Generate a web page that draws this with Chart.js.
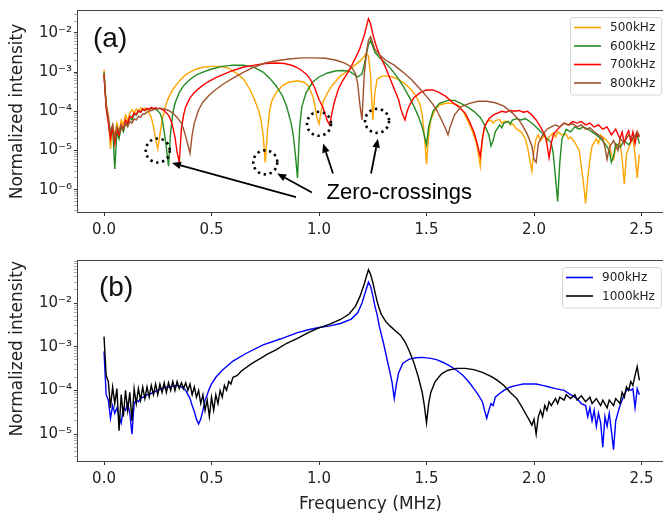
<!DOCTYPE html>
<html>
<head>
<meta charset="utf-8">
<script src="https://cdn.jsdelivr.net/npm/chart.js@4.4.1/dist/chart.umd.min.js"></script>
<style>
  html, body { margin:0; padding:0; background:#fff; overflow:hidden; }
  #wrap { position:relative; width:663px; height:519px; }
  #wrap canvas { position:absolute; left:0; }
  #chartA { top:0; width:663px; height:250px; }
  #chartB { top:250px; width:663px; height:269px; }
</style>
</head>
<body>
<div id="wrap">
  <canvas id="chartA" width="663" height="250"></canvas>
  <canvas id="chartB" width="663" height="269"></canvas>
</div>
<script>
// x tick labels (MHz)
const freqTicks = [0, 0.5, 1.0, 1.5, 2.0, 2.5];

// panel (a) spectra, [frequency MHz, normalized intensity]
const s500 = [[0,1.15e-3],[0.01,1.6e-4],[0.02,8e-5],[0.03,1.1e-5],[0.04,4e-5],[0.05,2.5e-5],[0.06,5e-5],[0.07,3e-5],[0.08,6e-5],[0.09,4.5e-5],[0.10,8e-5],[0.11,6e-5],[0.12,9e-5],[0.13,1.1e-4],[0.14,9e-5],[0.15,1.15e-4],[0.16,1.0e-4],[0.17,1.2e-4],[0.18,1.15e-4],[0.19,1.2e-4],[0.20,1.1e-4],[0.21,9e-5],[0.22,7e-5],[0.23,4e-5],[0.24,2e-5],[0.25,1.1e-5],[0.26,2.5e-5],[0.27,6e-5],[0.28,1e-4],[0.29,1.6e-4],[0.30,2.2e-4],[0.32,3.6e-4],[0.34,5e-4],[0.36,6.8e-4],[0.38,8.5e-4],[0.40,1e-3],[0.43,1.2e-3],[0.46,1.33e-3],[0.50,1.4e-3],[0.54,1.4e-3],[0.58,1.25e-3],[0.62,9e-4],[0.65,6.5e-4],[0.68,3.5e-4],[0.70,2e-4],[0.72,1e-4],[0.73,6e-5],[0.74,2.5e-5],[0.75,5e-6],[0.76,3e-5],[0.77,1e-4],[0.78,1.8e-4],[0.80,3e-4],[0.83,4.5e-4],[0.86,5.5e-4],[0.90,6e-4],[0.93,5.5e-4],[0.95,4.5e-4],[0.97,2.5e-4],[0.98,1.5e-4],[0.99,7e-5],[1.00,4.8e-5],[1.01,1e-4],[1.02,1.8e-4],[1.04,3e-4],[1.06,4.5e-4],[1.08,6e-4],[1.10,8e-4],[1.13,1.05e-3],[1.16,1.4e-3],[1.19,1.9e-3],[1.21,2.5e-3],[1.22,3e-3],[1.23,2.6e-3],[1.24,8e-4],[1.25,6e-5],[1.26,3e-4],[1.27,6.5e-4],[1.29,7.8e-4],[1.31,8e-4],[1.34,7.5e-4],[1.37,6.5e-4],[1.40,5e-4],[1.43,3.5e-4],[1.45,2.5e-4],[1.47,1.5e-4],[1.48,8e-5],[1.49,2.5e-5],[1.50,4.5e-6],[1.51,2.5e-5],[1.52,6e-5],[1.54,1.1e-4],[1.56,1.45e-4],[1.59,1.6e-4],[1.62,1.6e-4],[1.65,1.4e-4],[1.67,1e-4],[1.69,6e-5],[1.71,3.5e-5],[1.73,1.7e-5],[1.74,9e-6],[1.75,4e-6],[1.76,2e-5],[1.77,4e-5],[1.78,5.5e-5],[1.80,6e-5],[1.81,5e-5],[1.82,5.8e-5],[1.84,6.2e-5],[1.85,5e-5],[1.86,5.5e-5],[1.88,5.5e-5],[1.89,4.5e-5],[1.90,4.8e-5],[1.92,3.5e-5],[1.94,3e-5],[1.96,2e-5],[1.97,1.2e-5],[1.98,6e-6],[1.99,3e-6],[2.00,1e-5],[2.01,2e-5],[2.02,2.5e-5],[2.03,1.8e-5],[2.05,2.5e-5],[2.06,1.7e-5],[2.07,2.2e-5],[2.09,2.8e-5],[2.10,2.2e-5],[2.11,3e-5],[2.13,2.5e-5],[2.15,2.6e-5],[2.16,2e-5],[2.17,2.2e-5],[2.19,1.6e-5],[2.21,1e-5],[2.22,4e-6],[2.23,1.5e-6],[2.24,4.5e-7],[2.25,2e-6],[2.26,6e-6],[2.27,1.3e-5],[2.29,2e-5],[2.30,1.5e-5],[2.31,2.5e-5],[2.33,2e-5],[2.35,1.5e-5],[2.36,8e-6],[2.37,6e-6],[2.38,1.2e-5],[2.40,1.6e-5],[2.41,6e-6],[2.42,1.4e-6],[2.43,8e-6],[2.45,1.6e-5],[2.46,2e-5],[2.47,8e-6],[2.48,2e-6],[2.49,8e-6]];

const s600 = [[0,1e-3],[0.01,1.3e-4],[0.02,6e-5],[0.03,2.5e-5],[0.04,4e-5],[0.05,3.4e-6],[0.06,3e-5],[0.07,2e-5],[0.08,4e-5],[0.09,3e-5],[0.10,5e-5],[0.11,4.5e-5],[0.12,7e-5],[0.13,6e-5],[0.14,8.5e-5],[0.15,8e-5],[0.16,1e-4],[0.17,9.5e-5],[0.18,1.1e-4],[0.19,1.05e-4],[0.20,1.15e-4],[0.22,1.2e-4],[0.24,1.15e-4],[0.26,9e-5],[0.27,6.5e-5],[0.28,3e-5],[0.29,1.2e-5],[0.30,4e-6],[0.31,3e-5],[0.32,9e-5],[0.33,1.6e-4],[0.35,3e-4],[0.37,4.5e-4],[0.40,6.5e-4],[0.43,8.5e-4],[0.46,1e-3],[0.50,1.2e-3],[0.55,1.4e-3],[0.60,1.5e-3],[0.65,1.5e-3],[0.70,1.3e-3],[0.74,1e-3],[0.77,7e-4],[0.80,4.5e-4],[0.83,2.5e-4],[0.85,1.3e-4],[0.87,5e-5],[0.88,2.5e-5],[0.89,8e-6],[0.90,2e-6],[0.91,4e-5],[0.92,1.3e-4],[0.94,3e-4],[0.97,5.5e-4],[1.00,7.5e-4],[1.04,9.5e-4],[1.08,1.08e-3],[1.11,1.1e-3],[1.14,1.05e-3],[1.16,9e-4],[1.18,7.5e-4],[1.20,9e-4],[1.21,1.5e-3],[1.22,2.8e-3],[1.23,5e-3],[1.24,6.4e-3],[1.25,4.5e-3],[1.26,3.2e-3],[1.28,2.4e-3],[1.30,1.9e-3],[1.33,1.3e-3],[1.36,8e-4],[1.39,4.5e-4],[1.42,2.3e-4],[1.44,1.4e-4],[1.46,8e-5],[1.48,4e-5],[1.50,1.4e-5],[1.51,4e-5],[1.53,1e-4],[1.56,1.6e-4],[1.60,1.9e-4],[1.63,1.9e-4],[1.66,1.6e-4],[1.69,1.3e-4],[1.72,1e-4],[1.75,7e-5],[1.77,4.5e-5],[1.79,2.5e-5],[1.80,1.3e-5],[1.81,1.8e-5],[1.82,3e-5],[1.84,4.5e-5],[1.85,3.8e-5],[1.86,5e-5],[1.88,5.5e-5],[1.89,4.8e-5],[1.90,6e-5],[1.92,6.5e-5],[1.94,6e-5],[1.96,6.5e-5],[1.98,5.5e-5],[2.00,4.5e-5],[2.02,3.5e-5],[2.04,2.7e-5],[2.06,2e-5],[2.08,1.6e-5],[2.09,8e-6],[2.10,2e-6],[2.11,5e-7],[2.12,5e-6],[2.13,2e-5],[2.15,3.5e-5],[2.17,3e-5],[2.19,4e-5],[2.21,3.5e-5],[2.23,4e-5],[2.25,3.5e-5],[2.27,3e-5],[2.29,2.5e-5],[2.31,2e-5],[2.33,1.5e-5],[2.35,1e-5],[2.36,5e-6],[2.37,7e-6],[2.38,1.5e-5],[2.40,1.2e-5],[2.42,1.8e-5],[2.44,1.4e-5],[2.46,2e-5],[2.48,2.5e-5],[2.49,1.5e-5]];

const s700 = [[0,9e-4],[0.01,1.2e-4],[0.02,5e-5],[0.03,2e-5],[0.04,4e-5],[0.05,1.5e-5],[0.06,3.5e-5],[0.07,2.5e-5],[0.08,4.5e-5],[0.09,3.5e-5],[0.10,6e-5],[0.11,5e-5],[0.12,7.5e-5],[0.13,7e-5],[0.14,9e-5],[0.15,8.5e-5],[0.16,1.05e-4],[0.17,9.5e-5],[0.18,1.15e-4],[0.19,1.05e-4],[0.20,1.2e-4],[0.21,1.1e-4],[0.22,1.25e-4],[0.23,1.15e-4],[0.24,1.25e-4],[0.25,1.15e-4],[0.26,1.2e-4],[0.27,1.1e-4],[0.28,1.05e-4],[0.29,9e-5],[0.30,8e-5],[0.31,6e-5],[0.32,4e-5],[0.33,2.2e-5],[0.34,9e-6],[0.35,5e-6],[0.36,3.5e-5],[0.37,8e-5],[0.38,1.3e-4],[0.40,2.2e-4],[0.42,3e-4],[0.45,4.2e-4],[0.48,5.5e-4],[0.52,7.2e-4],[0.56,9e-4],[0.60,1.1e-3],[0.65,1.35e-3],[0.70,1.5e-3],[0.75,1.65e-3],[0.80,1.7e-3],[0.84,1.65e-3],[0.88,1.45e-3],[0.91,1.2e-3],[0.94,9e-4],[0.96,6.5e-4],[0.98,4e-4],[1.00,2e-4],[1.02,1.2e-4],[1.03,8e-5],[1.04,5.5e-5],[1.05,4.5e-5],[1.06,9e-5],[1.07,1.6e-4],[1.09,3.7e-4],[1.11,6e-4],[1.13,9e-4],[1.15,1.4e-3],[1.17,2.3e-3],[1.19,4e-3],[1.21,8.5e-3],[1.22,1.4e-2],[1.23,2.3e-2],[1.24,1.7e-2],[1.25,9.5e-3],[1.26,6e-3],[1.27,4e-3],[1.29,2.2e-3],[1.31,1.3e-3],[1.33,7e-4],[1.35,3.7e-4],[1.37,2e-4],[1.38,1.2e-4],[1.39,8e-5],[1.40,6e-5],[1.41,1e-4],[1.42,1.4e-4],[1.44,2.2e-4],[1.47,3e-4],[1.50,3.5e-4],[1.53,3.5e-4],[1.56,3e-4],[1.59,2.4e-4],[1.62,1.7e-4],[1.65,1.3e-4],[1.68,9e-5],[1.70,5.5e-5],[1.72,3e-5],[1.73,2e-5],[1.74,1.2e-5],[1.75,7e-6],[1.76,2e-5],[1.77,4e-5],[1.79,6.5e-5],[1.81,8e-5],[1.83,9e-5],[1.85,1e-4],[1.87,9.5e-5],[1.89,1.05e-4],[1.91,1e-4],[1.93,1.05e-4],[1.95,9.5e-5],[1.97,1e-4],[1.99,8e-5],[2.01,6e-5],[2.03,4e-5],[2.05,2.5e-5],[2.06,1.5e-5],[2.07,6.5e-6],[2.08,1.5e-5],[2.09,2.5e-5],[2.10,3e-5],[2.12,4e-5],[2.14,5e-5],[2.16,4.5e-5],[2.18,5.5e-5],[2.20,5e-5],[2.22,5.5e-5],[2.24,4.5e-5],[2.26,5e-5],[2.28,4e-5],[2.30,4.5e-5],[2.32,3.5e-5],[2.34,4e-5],[2.36,2.5e-5],[2.38,3.5e-5],[2.40,2e-5],[2.41,3e-5],[2.42,1.5e-5],[2.43,2.5e-5],[2.44,3.2e-5],[2.45,1.7e-5],[2.46,3e-5],[2.47,1.5e-5],[2.48,3e-5],[2.49,2.2e-5]];

const s800 = [[0,8e-4],[0.01,1.5e-4],[0.02,7e-5],[0.03,3e-5],[0.04,4.5e-5],[0.05,2e-5],[0.06,4e-5],[0.07,3e-5],[0.08,4.5e-5],[0.09,3.5e-5],[0.10,5e-5],[0.11,4e-5],[0.12,5.5e-5],[0.13,5e-5],[0.14,6.5e-5],[0.15,6e-5],[0.16,7.5e-5],[0.17,7e-5],[0.18,8.5e-5],[0.19,8.5e-5],[0.20,9.5e-5],[0.22,1.05e-4],[0.24,1.15e-4],[0.26,1.2e-4],[0.28,1.15e-4],[0.30,1.05e-4],[0.32,9e-5],[0.34,7e-5],[0.36,5e-5],[0.37,3.5e-5],[0.38,2.3e-5],[0.39,1.4e-5],[0.40,8.5e-6],[0.41,2.5e-5],[0.42,5e-5],[0.44,1.1e-4],[0.46,1.7e-4],[0.49,2.6e-4],[0.52,3.6e-4],[0.56,5.2e-4],[0.60,7e-4],[0.65,1e-3],[0.70,1.35e-3],[0.75,1.7e-3],[0.80,1.95e-3],[0.86,2.15e-3],[0.92,2.3e-3],[0.98,2.3e-3],[1.03,2.25e-3],[1.08,2e-3],[1.12,1.7e-3],[1.15,1.35e-3],[1.17,9e-4],[1.18,5e-4],[1.19,1.5e-4],[1.20,6e-5],[1.21,8e-4],[1.22,3e-3],[1.23,6.5e-3],[1.24,8e-3],[1.25,5.5e-3],[1.26,3.8e-3],[1.28,2.8e-3],[1.31,2e-3],[1.35,1.5e-3],[1.39,1e-3],[1.43,6.5e-4],[1.47,3.7e-4],[1.50,2.4e-4],[1.53,1.5e-4],[1.55,1e-4],[1.57,6e-5],[1.59,3.5e-5],[1.60,2.5e-5],[1.61,4e-5],[1.63,8e-5],[1.66,1.3e-4],[1.70,1.6e-4],[1.74,1.8e-4],[1.78,1.8e-4],[1.82,1.65e-4],[1.86,1.35e-4],[1.90,9e-5],[1.93,6e-5],[1.95,4e-5],[1.97,2.5e-5],[1.99,1.3e-5],[2.00,6e-6],[2.01,5e-6],[2.02,1.5e-5],[2.04,2.5e-5],[2.06,3.5e-5],[2.08,4e-5],[2.10,4.5e-5],[2.12,4e-5],[2.14,5e-5],[2.16,4.5e-5],[2.18,4.8e-5],[2.20,4e-5],[2.22,4.5e-5],[2.24,3.5e-5],[2.26,3.8e-5],[2.28,3e-5],[2.30,2.5e-5],[2.32,2e-5],[2.33,1.2e-5],[2.34,6e-6],[2.35,1.2e-5],[2.37,1.8e-5],[2.39,1e-5],[2.40,2e-5],[2.42,1.6e-5],[2.44,2.5e-5],[2.46,2e-5],[2.48,3e-5],[2.49,2.4e-5]];

// panel (b) spectra
const s900 = [[0,7.8e-4],[0.01,8e-5],[0.02,6e-5],[0.03,2.3e-5],[0.04,4.5e-5],[0.05,3e-5],[0.06,4e-5],[0.07,2.5e-5],[0.08,1.8e-5],[0.09,4e-5],[0.10,3.5e-5],[0.11,5e-5],[0.12,3e-5],[0.13,1e-5],[0.14,5e-5],[0.15,6e-5],[0.16,5.5e-5],[0.17,6.5e-5],[0.18,7e-5],[0.19,7e-5],[0.20,8e-5],[0.22,8.5e-5],[0.24,9.5e-5],[0.26,1.05e-4],[0.28,1.15e-4],[0.30,1.2e-4],[0.32,1.25e-4],[0.34,1.3e-4],[0.36,1.2e-4],[0.38,1e-4],[0.40,6.5e-5],[0.41,4.5e-5],[0.42,3.3e-5],[0.43,2.2e-5],[0.44,1.7e-5],[0.45,2.2e-5],[0.46,3.5e-5],[0.47,6e-5],[0.48,8e-5],[0.49,1.1e-4],[0.50,1.4e-4],[0.52,2e-4],[0.55,2.9e-4],[0.60,4.7e-4],[0.66,7e-4],[0.74,1.1e-3],[0.82,1.5e-3],[0.90,2.1e-3],[0.95,2.45e-3],[1.00,2.75e-3],[1.05,3e-3],[1.10,3.4e-3],[1.15,4.3e-3],[1.18,6e-3],[1.20,1e-2],[1.22,2.1e-2],[1.23,3e-2],[1.24,2.4e-2],[1.25,1.5e-2],[1.26,8.5e-3],[1.27,5.5e-3],[1.28,3e-3],[1.30,1.2e-3],[1.32,4.3e-4],[1.33,2.6e-4],[1.34,1.5e-4],[1.35,6.5e-5],[1.36,1.4e-4],[1.37,2.5e-4],[1.39,4.2e-4],[1.42,5.2e-4],[1.45,5.6e-4],[1.48,5.7e-4],[1.52,5.4e-4],[1.55,5e-4],[1.58,4.3e-4],[1.61,3.6e-4],[1.64,2.9e-4],[1.67,2.2e-4],[1.70,1.5e-4],[1.72,1.1e-4],[1.74,8e-5],[1.76,5.5e-5],[1.77,3.5e-5],[1.78,2.3e-5],[1.79,3.5e-5],[1.80,5e-5],[1.81,4.5e-5],[1.82,7e-5],[1.84,8.5e-5],[1.86,1e-4],[1.89,1.2e-4],[1.92,1.3e-4],[1.95,1.4e-4],[1.98,1.4e-4],[2.01,1.4e-4],[2.04,1.3e-4],[2.07,1.2e-4],[2.10,1.1e-4],[2.14,1e-4],[2.17,8e-5],[2.20,6.5e-5],[2.22,5e-5],[2.24,4.5e-5],[2.25,2.5e-5],[2.26,4e-5],[2.27,2e-5],[2.28,3.5e-5],[2.29,1.5e-5],[2.30,3e-5],[2.31,1.8e-5],[2.32,5e-6],[2.33,2.5e-5],[2.34,1.5e-5],[2.35,3e-5],[2.36,1.2e-5],[2.37,4.4e-6],[2.38,2e-5],[2.39,3e-5],[2.40,4.5e-5],[2.41,6e-5],[2.42,8e-5],[2.43,1e-4],[2.44,1.1e-4],[2.45,1e-4],[2.46,1.1e-4],[2.47,4e-5],[2.48,1.1e-4],[2.49,8e-5]];

const s1000 = [[0,1.7e-3],[0.01,2.2e-4],[0.02,1.6e-4],[0.03,4e-5],[0.04,1.2e-4],[0.05,5e-5],[0.06,1.1e-4],[0.07,1.2e-5],[0.08,8e-5],[0.09,2.5e-5],[0.10,1e-4],[0.11,3.5e-5],[0.12,9e-5],[0.13,2e-5],[0.14,1.1e-4],[0.15,5e-5],[0.16,1.1e-4],[0.17,6e-5],[0.18,1.2e-4],[0.19,6.5e-5],[0.20,1.2e-4],[0.21,7e-5],[0.22,1.3e-4],[0.23,8e-5],[0.24,1.4e-4],[0.25,8e-5],[0.26,1.4e-4],[0.27,9e-5],[0.28,1.5e-4],[0.29,9e-5],[0.30,1.5e-4],[0.31,1e-4],[0.32,1.6e-4],[0.33,1e-4],[0.34,1.6e-4],[0.35,1.1e-4],[0.36,1.5e-4],[0.37,1.1e-4],[0.38,1.5e-4],[0.39,1e-4],[0.40,1.4e-4],[0.41,8e-5],[0.42,1.2e-4],[0.43,7e-5],[0.44,1e-4],[0.45,5e-5],[0.46,8e-5],[0.47,3.5e-5],[0.48,6e-5],[0.49,2.5e-5],[0.50,7e-5],[0.51,3.5e-5],[0.52,8e-5],[0.53,5e-5],[0.54,1e-4],[0.55,7e-5],[0.56,1.3e-4],[0.57,1e-4],[0.58,1.6e-4],[0.59,1.4e-4],[0.60,2e-4],[0.62,2.2e-4],[0.64,2.8e-4],[0.66,3.3e-4],[0.68,3.9e-4],[0.70,4.5e-4],[0.73,5.5e-4],[0.76,6.8e-4],[0.80,8.5e-4],[0.85,1.2e-3],[0.90,1.55e-3],[0.95,2.1e-3],[1.00,2.7e-3],[1.05,3.3e-3],[1.10,4.2e-3],[1.14,5.6e-3],[1.17,8.5e-3],[1.19,1.4e-2],[1.21,2.7e-2],[1.22,4e-2],[1.23,5.8e-2],[1.24,4.5e-2],[1.25,3e-2],[1.26,1.8e-2],[1.27,1.1e-2],[1.28,7.5e-3],[1.29,5.5e-3],[1.31,3.8e-3],[1.33,3e-3],[1.36,2.2e-3],[1.38,1.8e-3],[1.40,1.3e-3],[1.42,8e-4],[1.44,4.5e-4],[1.46,2.2e-4],[1.47,1.4e-4],[1.48,9e-5],[1.49,4.5e-5],[1.50,1.8e-5],[1.51,5e-5],[1.52,9e-5],[1.54,1.6e-4],[1.57,2.4e-4],[1.60,2.9e-4],[1.64,3.2e-4],[1.68,3.2e-4],[1.72,3e-4],[1.76,2.6e-4],[1.80,2.1e-4],[1.83,1.7e-4],[1.86,1.3e-4],[1.89,9e-5],[1.92,6.5e-5],[1.94,4.5e-5],[1.96,3e-5],[1.98,2e-5],[1.99,1.6e-5],[2.00,2.2e-5],[2.01,1e-5],[2.02,2.5e-5],[2.03,3.5e-5],[2.04,2.5e-5],[2.05,4.5e-5],[2.06,3.5e-5],[2.07,5.5e-5],[2.08,4.5e-5],[2.10,6.5e-5],[2.11,5e-5],[2.12,7e-5],[2.14,6e-5],[2.15,8e-5],[2.17,6.5e-5],[2.19,8e-5],[2.20,6e-5],[2.22,7.5e-5],[2.24,5.5e-5],[2.26,7e-5],[2.27,5e-5],[2.29,6.5e-5],[2.31,4.5e-5],[2.32,6e-5],[2.34,4e-5],[2.35,6e-5],[2.37,4.5e-5],[2.38,6.5e-5],[2.40,5e-5],[2.41,9e-5],[2.42,7e-5],[2.43,1.2e-4],[2.44,1e-4],[2.45,1.6e-4],[2.46,1.3e-4],[2.47,2.2e-4],[2.48,3.5e-4],[2.49,1.7e-4]];

// zero-crossing marks in panel (a), data coords
const zeroCircles = [[0.25, 1.0e-5], [0.75, 5.0e-6], [1.0, 4.8e-5], [1.27, 5.7e-5]];
const zeroArrows = [
  [0.893, 6.5e-7, 0.316, 4.8e-6],
  [0.967, 8.5e-7, 0.805, 2.6e-6],
  [1.065, 2.6e-6, 1.019, 1.5e-5],
  [1.242, 2.6e-6, 1.274, 2.0e-5]
];
const zeroLabel = { x: 1.035, y: 5.8e-7, text: "Zero-crossings" };

const SUP = { "-": "\u207b", "0": "\u2070", "1": "\u00b9", "2": "\u00b2", "3": "\u00b3", "4": "\u2074", "5": "\u2075", "6": "\u2076", "7": "\u2077", "8": "\u2078", "9": "\u2079" };
const sup = n => String(n).split("").map(c => SUP[c]).join("");
const isDecade = v => {
  const e = Math.round(Math.log10(v));
  return Math.abs(v / Math.pow(10, e) - 1) < 1e-6;
};
const pts = arr => arr.map(p => ({ x: p[0], y: p[1] }));

Chart.defaults.font.family = "'DejaVu Sans', sans-serif";
Chart.defaults.color = "#222";

function xAxis(h, title) {
  return {
    type: "linear", min: -0.121, max: 2.6,
    afterFit(s) { s.height = h; },
    afterBuildTicks(s) { s.ticks = freqTicks.map(v => ({ value: v })); },
    ticks: { autoSkip: false, maxRotation: 0, minRotation: 0, padding: 5, color: "#222",
      font: { size: 15 }, callback: v => v.toFixed(1) },
    grid: { drawOnChartArea: false, tickLength: 4, tickColor: "#333", tickWidth: 1 },
    border: { display: false },
    title: title ? { display: true, text: title, color: "#222", font: { size: 17 }, padding: { top: 0, bottom: 4 } } : { display: false }
  };
}

function yAxis(min, max, align) {
  return {
    type: "logarithmic", min: min, max: max,
    afterFit(s) { s.width = 78; },
    afterBuildTicks(s) {
      const t = [];
      for (let e = Math.floor(Math.log10(min)); e <= Math.ceil(Math.log10(max)); e++) {
        for (let m = 1; m < 10; m++) {
          const v = m * Math.pow(10, e);
          if (v >= min && v <= max) t.push({ value: v });
        }
      }
      s.ticks = t;
    },
    ticks: { autoSkip: false, maxRotation: 0, minRotation: 0, padding: 2, color: "#222",
      font: { size: 15 },
      callback: v => isDecade(v) ? "10" + sup(Math.round(Math.log10(v))) : "" },
    grid: { drawOnChartArea: false, tickLength: 4,
      tickColor: c => (c.tick && isDecade(c.tick.value)) ? "#333" : "#888",
      tickWidth: c => (c.tick && isDecade(c.tick.value)) ? 1 : 0.7 },
    border: { display: false },
    title: { display: true, text: "Normalized intensity", align: align, color: "#222",
      font: { size: 17 }, padding: { top: 7, bottom: 0 } }
  };
}

function line(label, arr, color, order) {
  return { label: label, data: pts(arr), borderColor: color, backgroundColor: color,
    borderWidth: 1.4, pointRadius: 0, tension: 0, fill: false, order: order };
}

// frame around the plot area
const frame = {
  id: "frame",
  afterDatasetsDraw(chart) {
    const { ctx, chartArea: a } = chart;
    ctx.save();
    ctx.strokeStyle = "#444";
    ctx.lineWidth = 1;
    ctx.strokeRect(a.left - 0.5, a.top - 0.5, a.right - a.left + 1, a.bottom - a.top + 1);
    ctx.restore();
  }
};

// matplotlib style legend box in the upper right corner
const boxLegend = {
  id: "boxLegend",
  afterDraw(chart) {
    const { ctx, chartArea: a } = chart;
    const sets = chart.data.datasets;
    ctx.save();
    ctx.font = "12px 'DejaVu Sans'";
    const tw = Math.max(...sets.map(d => ctx.measureText(d.label).width));
    const w = 4 + 27 + 9 + tw + 6;
    const rowH = 18.5;
    const h = 10.5 + (sets.length - 1) * rowH + 11.5;
    const x0 = Math.round(a.right - 2 - w), y0 = Math.round(a.top + 6);
    ctx.beginPath();
    ctx.roundRect(x0 + 0.5, y0 + 0.5, w, h, 3);
    ctx.fillStyle = "rgba(255,255,255,0.85)";
    ctx.fill();
    ctx.strokeStyle = "#d4d4d4";
    ctx.lineWidth = 1;
    ctx.stroke();
    sets.forEach((d, i) => {
      const y = y0 + 10.5 + i * rowH;
      ctx.strokeStyle = d.borderColor;
      ctx.lineWidth = 1.6;
      ctx.beginPath();
      ctx.moveTo(x0 + 4, y);
      ctx.lineTo(x0 + 31, y);
      ctx.stroke();
      ctx.fillStyle = "#222";
      ctx.textAlign = "left";
      ctx.textBaseline = "middle";
      ctx.fillText(d.label, x0 + 40, y + 0.5);
    });
    ctx.restore();
  }
};

// panel letter
const panelTag = {
  id: "panelTag",
  afterDraw(chart, args, opts) {
    const { ctx, chartArea: a } = chart;
    ctx.save();
    ctx.font = "28px 'Liberation Sans'";
    ctx.fillStyle = "#111";
    ctx.textAlign = "left";
    ctx.textBaseline = "alphabetic";
    ctx.fillText(opts.text, a.left + opts.dx, a.top + opts.dy);
    ctx.restore();
  }
};

// dotted circles, arrows and label for the zero crossings
const zeroMarks = {
  id: "zeroMarks",
  afterDatasetsDraw(chart) {
    const { ctx } = chart;
    const sx = chart.scales.x, sy = chart.scales.y;
    ctx.save();
    ctx.strokeStyle = "#000";
    ctx.fillStyle = "#000";
    ctx.lineWidth = 2.6;
    ctx.setLineDash([2.4, 3.6]);
    zeroCircles.forEach(c => {
      ctx.beginPath();
      ctx.arc(sx.getPixelForValue(c[0]), sy.getPixelForValue(c[1]), 12, 0, Math.PI * 2);
      ctx.stroke();
    });
    ctx.setLineDash([]);
    ctx.lineWidth = 1.8;
    zeroArrows.forEach(r => {
      const x1 = sx.getPixelForValue(r[0]), y1 = sy.getPixelForValue(r[1]);
      const x2 = sx.getPixelForValue(r[2]), y2 = sy.getPixelForValue(r[3]);
      const ang = Math.atan2(y2 - y1, x2 - x1);
      const hl = 9, hw = 3.8;
      const bx = x2 - hl * Math.cos(ang), by = y2 - hl * Math.sin(ang);
      ctx.beginPath();
      ctx.moveTo(x1, y1);
      ctx.lineTo(bx, by);
      ctx.stroke();
      ctx.beginPath();
      ctx.moveTo(x2, y2);
      ctx.lineTo(bx + hw * Math.sin(ang), by - hw * Math.cos(ang));
      ctx.lineTo(bx - hw * Math.sin(ang), by + hw * Math.cos(ang));
      ctx.closePath();
      ctx.fill();
    });
    ctx.font = "22px 'Liberation Sans'";
    ctx.textAlign = "left";
    ctx.textBaseline = "alphabetic";
    ctx.fillText(zeroLabel.text, sx.getPixelForValue(zeroLabel.x), sy.getPixelForValue(zeroLabel.y));
    ctx.restore();
  }
};

const common = {
  responsive: false,
  animation: false,
  events: [],
  plugins: { legend: { display: false }, tooltip: { enabled: false } }
};

new Chart(document.getElementById("chartA"), {
  type: "line",
  data: {
    datasets: [
      line("500kHz", s500, "#ffa500", 4),
      line("600kHz", s600, "#228b22", 3),
      line("700kHz", s700, "#ff0000", 2),
      line("800kHz", s800, "#a0522d", 1)
    ]
  },
  options: Object.assign({}, common, {
    layout: { padding: { top: 7, left: 0, right: 0, bottom: 0 } },
    scales: { x: xAxis(38, null), y: yAxis(2.707e-7, 0.0361, "center") },
    plugins: Object.assign({}, common.plugins, { panelTag: { text: "(a)", dx: 15, dy: 36 } })
  }),
  plugins: [frame, zeroMarks, boxLegend, panelTag]
});

new Chart(document.getElementById("chartB"), {
  type: "line",
  data: {
    datasets: [
      line("900kHz", s900, "#0000ff", 2),
      line("1000kHz", s1000, "#000000", 1)
    ]
  },
  options: Object.assign({}, common, {
    layout: { padding: { top: 5, left: 0, right: 0, bottom: 0 } },
    scales: { x: xAxis(58, "Frequency (MHz)"), y: yAxis(2.423e-6, 0.0917, "end") },
    plugins: Object.assign({}, common.plugins, { panelTag: { text: "(b)", dx: 21, dy: 35 } })
  }),
  plugins: [frame, boxLegend, panelTag]
});
</script>
</body>
</html>
